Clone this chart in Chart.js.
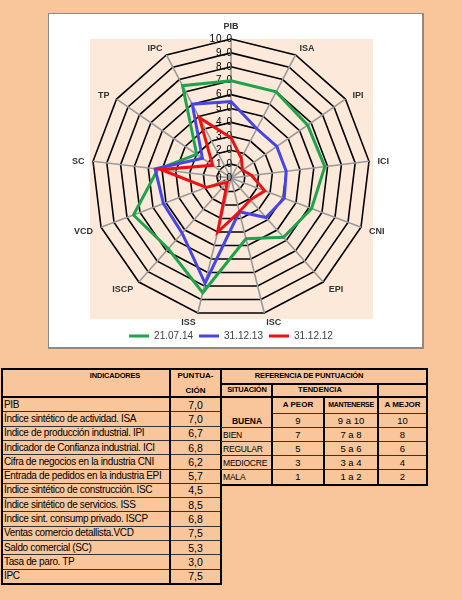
<!DOCTYPE html>
<html><head><meta charset="utf-8">
<script src="https://cdn.jsdelivr.net/npm/chart.js@4.4.1/dist/chart.umd.min.js"></script>
<style>
html,body{margin:0;padding:0;}
body{width:462px;height:600px;background:#F9C59A;position:relative;overflow:hidden;
 font-family:'Liberation Sans',Arial,sans-serif;color:#000;}
#box{position:absolute;left:48px;top:13px;width:373px;height:333px;background:#fff;
 border:1px solid #8a8a8a;border-right:2px solid #8a8a8a;border-bottom:2px solid #8a8a8a;}
#c{position:absolute;left:0;top:0;}
</style></head>
<body>
<div id="box"><canvas id="c" width="373" height="333"></canvas></div>
<script>
// ---- data ----
const categories = ['PIB','ISA','IPI','ICI','CNI','EPI','ISC','ISS','ISCP','VCD','SC','TP','IPC'];
const seriesNames = ['21.07.14','31.12.13','31.12.12'];
const s210714 = [7.0,7.0,6.7,6.8,6.2,5.7,4.5,8.5,6.8,7.5,5.3,3.0,7.5];
const s311213 = [5.5,4.0,4.0,4.0,4.1,3.8,2.5,7.8,5.3,5.2,5.5,2.5,6.0];
const s311212 = [2.9,1.6,1.0,1.5,2.6,2.1,2.5,4.0,0.4,1.9,5.1,1.6,4.9];
const tickValues = [0,1,2,3,4,5,6,7,8,9,10];

const indicatorNames = ['PIB','Índice sintético de actividad. ISA','Índice de producción industrial. IPI',
 'Indicador de Confianza industrial. ICI','Cifra de negocios en la industria CNI','Entrada de pedidos en la industria EPI',
 'Índice sintético de construcción. ISC','Índice sintético de servicios. ISS','Indice sint. consump privado. ISCP',
 'Ventas comercio detallista.VCD','Saldo comercial (SC)','Tasa de paro. TP','IPC'];
const scores = s210714;
const situaciones = ['BUENA','BIEN','REGULAR','MEDIOCRE','MALA'];
const aPeor = ['9','7','5','3','1'];
const mantenerse = ['9 a 10','7 a 8','5 a 6','3 a 4','1 a 2'];
const aMejor = ['10','8','6','4','2'];

const CHART_FONT = "'Liberation Sans', Arial, sans-serif";

const bgPlugin = {
  id:'plotbg',
  beforeDraw(chart){
    const s = chart.scales.r, ctx = chart.ctx, r = s.drawingArea;
    ctx.save();
    ctx.fillStyle = '#FDE9D9';
    ctx.fillRect(s.xCenter - r - 2, s.yCenter - r, 2*r + 5, 2*r + 2);
    ctx.restore();
  }
};
const labelPlugin = {
  id:'labels',
  beforeDatasetsDraw(chart){
    const s = chart.scales.r, ctx = chart.ctx;
    ctx.save();
    // tick labels
    ctx.font = '10px ' + CHART_FONT;
    ctx.fillStyle = '#000';
    ctx.textAlign = 'right';
    ctx.textBaseline = 'middle';
    try { ctx.letterSpacing = '1px'; } catch(e) {}
    tickValues.forEach(v => {
      const p = s.getPointPositionForValue(0, v);
      ctx.fillText(v.toFixed(1), p.x + 2, p.y);
    });
    try { ctx.letterSpacing = '0px'; } catch(e) {}
    // point labels
    ctx.font = 'bold 9px ' + CHART_FONT;
    ctx.fillStyle = '#333';
    ctx.textAlign = 'center';
    categories.forEach((lab, i) => {
      const th = s.getIndexAngle(i);
      const sn = Math.sin(th), cs = Math.cos(th);
      const end = s.getPointPosition(i, s.drawingArea);
      const w = ctx.measureText(lab).width;
      const sg = Math.abs(sn) < 0.01 ? 0 : Math.sign(sn);
      const cx = end.x + sn * 8.5 + sg * w / 2;
      const cy = end.y - cs * 8.5 + 1.5 - Math.pow(Math.max(0, cs), 20) * 5;
      ctx.fillText(lab, cx, cy);
    });
    ctx.restore();
  }
};

new Chart(document.getElementById('c'), {
  type:'radar',
  data:{
    labels:categories,
    datasets:[
      {label:seriesNames[0], data:s210714, borderColor:'#1FA34A', backgroundColor:'#1FA34A', borderWidth:3, pointRadius:0, fill:false, order:3},
      {label:seriesNames[1], data:s311213, borderColor:'#4646E6', backgroundColor:'#4646E6', borderWidth:3, pointRadius:0, fill:false, order:2},
      {label:seriesNames[2], data:s311212, borderColor:'#EE1111', backgroundColor:'#EE1111', borderWidth:3, pointRadius:0, fill:false, order:1}
    ]
  },
  options:{
    responsive:false, animation:false,
    layout:{padding:{left:43, right:52, top:17, bottom:-4}},
    elements:{line:{tension:0, borderJoinStyle:'miter'}},
    plugins:{
      tooltip:{enabled:false},
      legend:{position:'bottom',
        labels:{usePointStyle:true, pointStyle:'line', pointStyleWidth:20, color:'#404040', padding:6,
          font:{size:10, family:CHART_FONT},
          sort:(a,b)=>a.datasetIndex-b.datasetIndex}}
    },
    scales:{r:{
      min:0, max:10,
      ticks:{stepSize:1, display:false},
      grid:{color:'#000', lineWidth:1.6},
      angleLines:{color:'#999', lineWidth:1.6},
      pointLabels:{display:false}
    }}
  },
  plugins:[bgPlugin, labelPlugin]
});

// ---- tables ----
function line(x,y,w,h,c){
  const d=document.createElement('div');
  d.style.cssText=`position:absolute;left:${x}px;top:${y}px;width:${w}px;height:${h}px;background:${c||'#000'};`;
  document.body.appendChild(d);
}
function text(t,x,yc,w,align,size,bold,ls){
  const d=document.createElement('div');
  d.textContent=t;
  d.style.cssText=`position:absolute;left:${x}px;top:${yc-8}px;width:${w}px;height:16px;line-height:16px;text-align:${align};font-size:${size}px;font-weight:${bold?'bold':'normal'};letter-spacing:${ls||0}px;white-space:nowrap;`;
  document.body.appendChild(d);
}
// table 1
const t1Top=368, t1Head=397, rowH=14.3;
const t1Bottom = t1Head + rowH*indicatorNames.length;
for(let i=1;i<indicatorNames.length;i++) line(1, t1Head + i*rowH, 220, 1, '#333');
line(1,t1Top,221,2); line(1,t1Bottom,221,2); line(1,t1Top,2,t1Bottom-t1Top+2); line(220,t1Top,2,t1Bottom-t1Top+2);
line(169,t1Top,2,t1Bottom-t1Top); line(1,t1Head-1,221,2);
text('INDICADORES',60,376,110,'center',7.5,true,-0.2);
text('PUNTUA-',171,376,49,'center',8,true);
text('CIÓN',171,391,49,'center',8,true);
indicatorNames.forEach((n,i)=>{
  const yc = t1Head + rowH*(i+0.5) + 0.5;
  text(n,4,yc,165,'left',10,false,-0.35);
  text(scores[i].toFixed(1).replace('.',','),171,yc,49,'center',10.5,false);
});
// table 2
const x0=221, x1=272, x2=324, x3=378, x4=427;
const rowsY=[413,427,441,455,469,484];
for(let i=1;i<5;i++) line(x0, rowsY[i], x4-x0, 1, '#333');
line(x1,413,x4-x1,1,'#333');
line(x0,368,x4-x0+1,2); line(x0,383,x4-x0,2); line(x0,396,x4-x0,2); line(x0,484,x4-x0+1,2);
line(x4-1,368,2,118); line(x1-1,383,2,101); line(x2-1,397,2,87); line(x3-1,383,2,101);
text('REFERENCIA DE PUNTUACIÓN',250,376,118,'center',7.5,true,-0.2);
text('SITUACIÓN',x0+1,390,x1-x0-1,'center',7.5,true,-0.2);
text('TENDENCIA',x1,390,x3-x1-10,'center',7.5,true);
text('A PEOR',x1,405,x2-x1,'center',8,true);
text('MANTENERSE',x2,405,x3-x2,'center',7,true,-0.35);
text('A MEJOR',x3,405,x4-x3,'center',8,true);
situaciones.forEach((s,i)=>{
  const yc = (rowsY[i]+rowsY[i+1])/2 + 0.5;
  if(i===0) text(s,x0+1,yc,x1-x0-1,'center',8.5,true);
  else text(s,x0+2,yc,x1-x0,'left',8.5,false,-0.2);
  text(aPeor[i],x1,yc,x2-x1,'center',9.5,false);
  text(mantenerse[i],x2,yc,x3-x2,'center',9.5,false);
  text(aMejor[i],x3,yc,x4-x3,'center',9.5,false);
});
</script>
</body></html>
